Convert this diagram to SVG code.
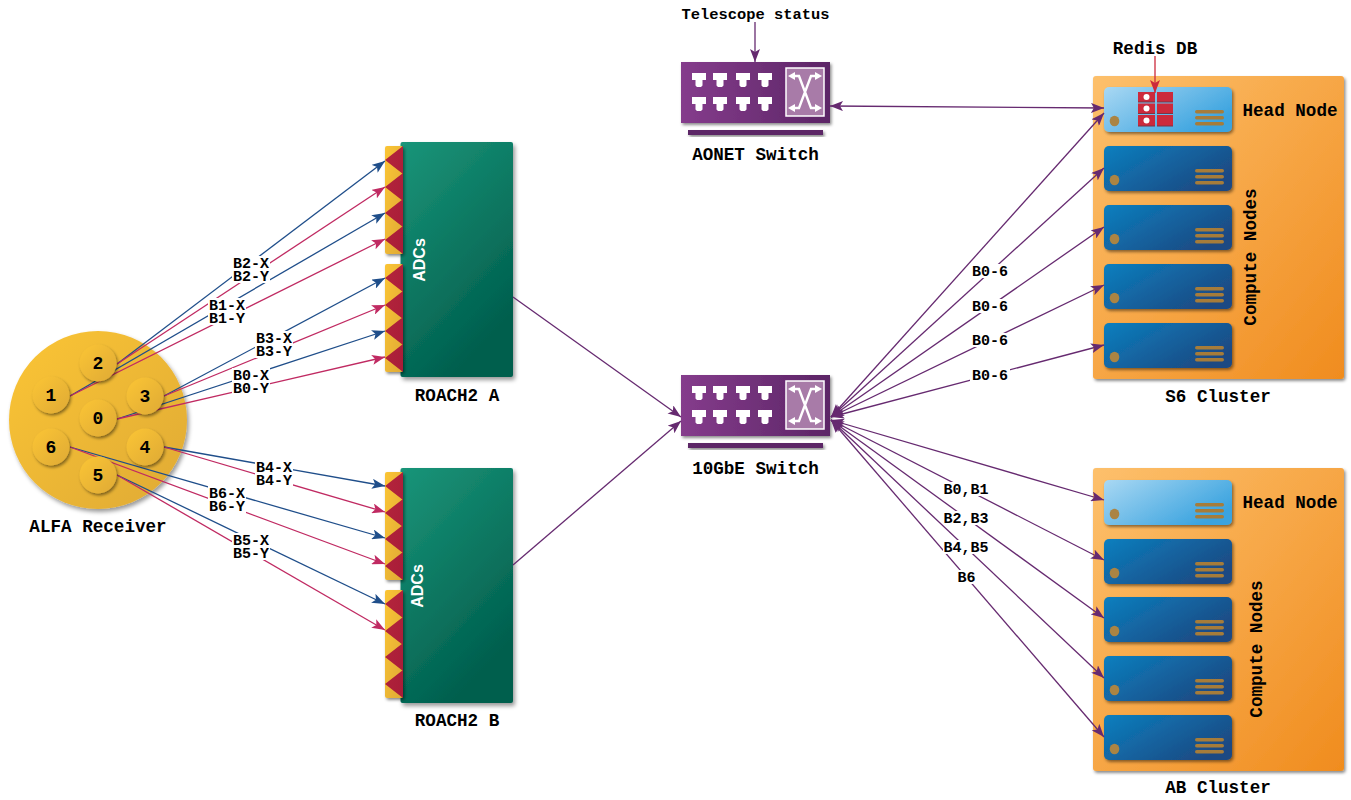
<svg xmlns="http://www.w3.org/2000/svg" xmlns:xlink="http://www.w3.org/1999/xlink" width="1351" height="800" viewBox="0 0 1351 800">
<style>
text{font-family:"Liberation Mono",monospace;font-weight:700;fill:#000}
.t{font-size:17.6px;text-anchor:middle}
.l{font-size:15px;text-anchor:middle}
.s{font-size:15.400px;text-anchor:middle}
.n{font-size:18px;text-anchor:middle}
.a{font-family:"Liberation Sans",Arial,sans-serif;font-size:16px;fill:#fff;text-anchor:middle}
.lb{fill:#fff}
.b{fill:none;stroke:#1f4e8a;stroke-width:1.3;marker-end:url(#mb)}
.p{fill:none;stroke:#c02a62;stroke-width:1.3;marker-end:url(#mp)}
.v{fill:none;stroke:#662a70;stroke-width:1.3;marker-end:url(#mv)}
.vv{fill:none;stroke:#662a70;stroke-width:1.3;marker-start:url(#mvs);marker-end:url(#mv)}
.r{fill:none;stroke:#cc2a3c;stroke-width:1.3;marker-end:url(#mr)}
.vent{fill:#a67c3a}
.x{fill:none;stroke:#fff;stroke-width:2.400}
</style>
<defs>
<marker id="mb" markerUnits="userSpaceOnUse" markerWidth="14" markerHeight="10" refX="13" refY="5" orient="auto"><path d="M0 0L13 5L0 10L3 5z" fill="#1f4e8a"/></marker>
<marker id="mp" markerUnits="userSpaceOnUse" markerWidth="14" markerHeight="10" refX="13" refY="5" orient="auto"><path d="M0 0L13 5L0 10L3 5z" fill="#c02a62"/></marker>
<marker id="mv" markerUnits="userSpaceOnUse" markerWidth="14" markerHeight="10" refX="13" refY="5" orient="auto"><path d="M0 0L13 5L0 10L3 5z" fill="#662a70"/></marker>
<marker id="mvs" markerUnits="userSpaceOnUse" markerWidth="14" markerHeight="10" refX="0" refY="5" orient="auto"><path d="M13 0L0 5L13 10L10 5z" fill="#662a70"/></marker>
<marker id="mr" markerUnits="userSpaceOnUse" markerWidth="14" markerHeight="10" refX="13" refY="5" orient="auto"><path d="M0 0L13 5L0 10L3 5z" fill="#cc2a3c"/></marker>
<filter id="sh" x="-20%" y="-20%" width="140%" height="140%"><feDropShadow dx="2" dy="3" stdDeviation="2" flood-color="#000" flood-opacity=".4"/></filter>
<filter id="shs" x="-30%" y="-30%" width="160%" height="160%"><feDropShadow dx="1.5" dy="2" stdDeviation="1.5" flood-color="#000" flood-opacity=".45"/></filter>
<linearGradient id="gd" x1="0" y1="0" x2="1" y2="1"><stop offset="0" stop-color="#fbc535"/><stop offset="1" stop-color="#dfaa36"/></linearGradient>
<linearGradient id="gg" x1="0" y1="0" x2=".5" y2="1"><stop offset="0" stop-color="#1a9579"/><stop offset="1" stop-color="#005e4d"/></linearGradient>
<linearGradient id="gc" x1="0" y1="0" x2="1" y2="1"><stop offset="0" stop-color="#fdc06c"/><stop offset="1" stop-color="#f08c1e"/></linearGradient>
<linearGradient id="gh" x1="0" y1="0" x2="1" y2=".6"><stop offset="0" stop-color="#a9d8f3"/><stop offset="1" stop-color="#3aa3df"/></linearGradient>
<linearGradient id="gn" x1="0" y1="0" x2="1" y2=".6"><stop offset="0" stop-color="#0b7fbf"/><stop offset="1" stop-color="#1c4a83"/></linearGradient>
<linearGradient id="gs" x1="0" y1="0" x2="1" y2="0"><stop offset="0" stop-color="#853c8c"/><stop offset="1" stop-color="#5c2566"/></linearGradient>
<linearGradient id="gt" x1="0" y1="0" x2="1" y2="1"><stop offset="0" stop-color="#b4253c"/><stop offset="1" stop-color="#a81c38"/></linearGradient>
<g id="vents"><rect class="vent" x="1195" y="0" width="29" height="3.5" rx="1.7"/><rect class="vent" x="1195" y="6" width="29" height="3.5" rx="1.7"/><rect class="vent" x="1195" y="12" width="29" height="3.5" rx="1.7"/></g>
<g id="head"><rect x="1104" y="0" width="128" height="45" rx="5" fill="url(#gh)" filter="url(#shs)"/><ellipse cx="1114.500" cy="34" rx="4.800" ry="5.300" fill="#ab8443"/><use href="#vents" y="23"/></g>
<g id="comp"><rect x="1104" y="0" width="128" height="45" rx="5" fill="url(#gn)" filter="url(#shs)"/><ellipse cx="1114.500" cy="34" rx="4.800" ry="5.300" fill="#ab8443"/><use href="#vents" y="23"/></g>
<path id="port" d="M-7 0H7V7H3.500V12.500L2 14H-2L-3.500 12.500V7H-7z" fill="#fff"/>
<g id="switch">
<rect x="0" y="0" width="149" height="61" fill="url(#gs)" filter="url(#shs)"/>
<rect x="7" y="68" width="135" height="5" fill="#5c2566" filter="url(#shs)"/>
<use href="#port" x="18" y="11"/><use href="#port" x="39" y="11"/><use href="#port" x="62" y="11"/><use href="#port" x="84" y="11"/>
<use href="#port" x="18" y="35"/><use href="#port" x="39" y="35"/><use href="#port" x="62" y="35"/><use href="#port" x="84" y="35"/>
<rect x="105" y="6" width="38" height="48" fill="#a87ba8" stroke="#fff" stroke-width="1.5"/>
<path class="x" d="M111 14H118L130 46H137M137 14H130L118 46H111"/>
<path d="M107 14L114 10V18zM141 14L134 10V18zM107 46L114 42V50zM141 46L134 42V50z" fill="#fff"/>
</g>
<g id="adc">
<rect x="385" y="0" width="18" height="108" rx="2" fill="url(#gd)" filter="url(#shs)"/>
<path d="M403 0V28L385 14zM403 27V55L385 41zM403 53V81L385 67zM403 80V108L385 94z" fill="url(#gt)"/>
</g>
</defs>

<g id="alfa-disk"><circle cx="98" cy="420" r="89" fill="url(#gd)" filter="url(#sh)"/></g>
<g id="alfa-label"><text class="t" x="98" y="532">ALFA Receiver</text></g>

<g id="roach-a">
<rect x="400.500" y="142" width="112.500" height="235" rx="2" fill="url(#gg)" filter="url(#sh)"/>
<use href="#adc" y="146"/><use href="#adc" y="264"/>
<text class="a" transform="translate(424.500 260) rotate(-90)">ADCs</text>
<text class="t" x="457" y="401">ROACH2 A</text>
</g>
<g id="roach-b">
<rect x="400.500" y="468" width="112.500" height="235" rx="2" fill="url(#gg)" filter="url(#sh)"/>
<use href="#adc" y="472"/><use href="#adc" y="590"/>
<text class="a" transform="translate(423 586) rotate(-90)">ADCs</text>
<text class="t" x="457" y="726">ROACH2 B</text>
</g>

<g id="telescope-status"><text class="s" x="755.500" y="19">Telescope status</text></g>
<g id="aonet-switch"><use href="#switch" x="681" y="62"/><text class="t" x="755.500" y="160">AONET Switch</text></g>
<g id="switch-10gbe"><use href="#switch" x="681" y="375"/><text class="t" x="755.500" y="474">10GbE Switch</text></g>

<g id="s6-cluster">
<rect x="1093" y="76" width="251" height="303" rx="3" fill="url(#gc)" filter="url(#shs)"/>
<use href="#head" y="87"/><use href="#comp" y="146"/><use href="#comp" y="205"/><use href="#comp" y="264"/><use href="#comp" y="323"/>
<text class="t" x="1290" y="116">Head Node</text>
<text class="t" transform="translate(1256 257) rotate(-90)">Compute Nodes</text>
<text class="t" x="1218" y="402">S6 Cluster</text>
</g>
<g id="redis-db">
<path d="M1138 92h17v10h-17zM1157 92h16v10h-16zM1138 103.500h17v10h-17zM1157 103.500h16v10h-16zM1138 115h17v11h-17zM1157 115h16v11h-16z" fill="#cc2a3c"/>
<path d="M1138 102h17M1157 102h16M1138 113.500h17M1157 113.500h16M1138 126h17M1157 126h16" stroke="#7a3347" stroke-width="1"/>
<circle cx="1146.500" cy="97" r="3" fill="#fff"/><circle cx="1146.500" cy="108.500" r="3" fill="#fff"/><circle cx="1146.500" cy="120.500" r="3" fill="#fff"/>
<text class="t" x="1155" y="54">Redis DB</text>
</g>
<g id="ab-cluster">
<rect x="1093" y="468" width="251" height="303" rx="3" fill="url(#gc)" filter="url(#shs)"/>
<use href="#head" y="480"/><use href="#comp" y="539"/><use href="#comp" y="597"/><use href="#comp" y="656"/><use href="#comp" y="715"/>
<text class="t" x="1290" y="508">Head Node</text>
<text class="t" transform="translate(1262 649) rotate(-90)">Compute Nodes</text>
<text class="t" x="1218" y="793">AB Cluster</text>
</g>

<g id="connectors">
<path class="b" d="M117 364L385 161"/><path class="p" d="M117 364L385 187"/>
<path class="b" d="M70 396L385 213"/><path class="p" d="M70 396L385 239"/>
<path class="b" d="M164 396L385 278"/><path class="p" d="M164 396L385 305"/>
<path class="b" d="M117 419L385 331"/><path class="p" d="M117 419L385 357"/>
<path class="b" d="M164 447L385 486"/><path class="p" d="M164 447L385 512"/>
<path class="b" d="M70 447L385 538"/><path class="p" d="M70 447L385 564"/>
<path class="b" d="M117 475L385 604"/><path class="p" d="M117 475L385 630"/>
<path class="v" d="M513 297L681 417"/><path class="v" d="M513 565L681 421"/>
<path class="v" d="M755 22V62"/><path class="r" d="M1155 56V93"/>
<path class="vv" d="M830 106L1104 108"/>
<path class="vv" d="M831 417L1104 113"/><path class="vv" d="M831 417L1104 168"/><path class="vv" d="M831 417L1104 227"/><path class="vv" d="M831 417L1104 285"/><path class="vv" d="M831 417L1104 345"/>
<path class="vv" d="M831 420L1104 500"/><path class="vv" d="M831 420L1104 560"/><path class="vv" d="M831 420L1104 618"/><path class="vv" d="M831 420L1104 678"/><path class="vv" d="M831 420L1104 737"/>
</g>

<g id="connector-labels">
<rect class="lb" x="232" y="256" width="38" height="27"/><text class="l" x="251" y="268">B2-X</text><text class="l" x="251" y="281">B2-Y</text>
<rect class="lb" x="208" y="298" width="38" height="27"/><text class="l" x="227" y="310">B1-X</text><text class="l" x="227" y="323">B1-Y</text>
<rect class="lb" x="255" y="331" width="38" height="27"/><text class="l" x="274" y="343">B3-X</text><text class="l" x="274" y="356">B3-Y</text>
<rect class="lb" x="232" y="368" width="38" height="27"/><text class="l" x="251" y="380">B0-X</text><text class="l" x="251" y="393">B0-Y</text>
<rect class="lb" x="255" y="460" width="38" height="27"/><text class="l" x="274" y="472">B4-X</text><text class="l" x="274" y="485">B4-Y</text>
<rect class="lb" x="208" y="486" width="38" height="27"/><text class="l" x="227" y="498">B6-X</text><text class="l" x="227" y="511">B6-Y</text>
<rect class="lb" x="232" y="533" width="38" height="27"/><text class="l" x="251" y="545">B5-X</text><text class="l" x="251" y="558">B5-Y</text>
</g>

<g id="beam-0"><circle cx="98" cy="418" r="18.500" fill="url(#gd)" filter="url(#shs)"/><text class="n" x="98" y="424">0</text></g>
<g id="beam-1"><circle cx="51" cy="395" r="18.500" fill="url(#gd)" filter="url(#shs)"/><text class="n" x="51" y="401">1</text></g>
<g id="beam-2"><circle cx="98" cy="363" r="18.500" fill="url(#gd)" filter="url(#shs)"/><text class="n" x="98" y="369">2</text></g>
<g id="beam-3"><circle cx="145" cy="396" r="18.500" fill="url(#gd)" filter="url(#shs)"/><text class="n" x="145" y="402">3</text></g>
<g id="beam-4"><circle cx="145" cy="447" r="18.500" fill="url(#gd)" filter="url(#shs)"/><text class="n" x="145" y="453">4</text></g>
<g id="beam-5"><circle cx="98" cy="475" r="18.500" fill="url(#gd)" filter="url(#shs)"/><text class="n" x="98" y="481">5</text></g>
<g id="beam-6"><circle cx="51" cy="447" r="18.500" fill="url(#gd)" filter="url(#shs)"/><text class="n" x="51" y="453">6</text></g>

<g id="network-labels">
<rect class="lb" x="970" y="264" width="40" height="14"/><text class="l" x="990" y="276">B0-6</text>
<rect class="lb" x="970" y="299" width="40" height="14"/><text class="l" x="990" y="311">B0-6</text>
<rect class="lb" x="970" y="333" width="40" height="14"/><text class="l" x="990" y="345">B0-6</text>
<rect class="lb" x="970" y="368" width="40" height="14"/><text class="l" x="990" y="380">B0-6</text>
<rect class="lb" x="943" y="482" width="47" height="14"/><text class="l" x="966" y="494">B0,B1</text>
<rect class="lb" x="943" y="511" width="47" height="14"/><text class="l" x="966" y="523">B2,B3</text>
<rect class="lb" x="943" y="540" width="47" height="14"/><text class="l" x="966" y="552">B4,B5</text>
<rect class="lb" x="956" y="570" width="21" height="14"/><text class="l" x="966.500" y="582">B6</text>
</g>
</svg>
